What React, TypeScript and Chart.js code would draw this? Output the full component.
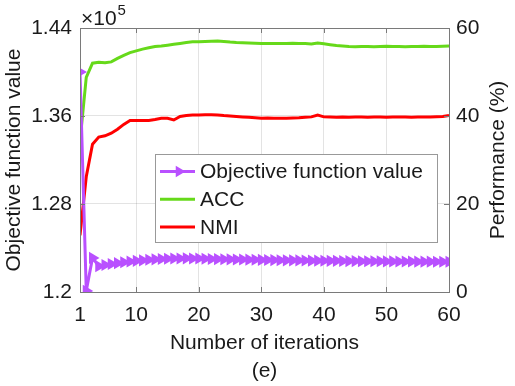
import React, { useEffect, useRef } from "react";
import { Chart, registerables } from "chart.js";

Chart.register(...registerables);

const iterations = [
  1, 2, 3, 4, 5, 6, 7, 8, 9, 10, 11, 12, 13, 14, 15, 16, 17, 18, 19, 20,
  21, 22, 23, 24, 25, 26, 27, 28, 29, 30, 31, 32, 33, 34, 35, 36, 37, 38, 39, 40,
  41, 42, 43, 44, 45, 46, 47, 48, 49, 50, 51, 52, 53, 54, 55, 56, 57, 58, 59, 60,
];

// Objective function value (x 10^5)
const objective = [
  1.4, 1.201, 1.231, 1.2235, 1.2245, 1.2255, 1.2262, 1.227, 1.2277, 1.2283,
  1.2288, 1.2293, 1.2297, 1.23, 1.2302, 1.2305, 1.2305, 1.2306, 1.2305, 1.2304,
  1.2302, 1.23, 1.2299, 1.2298, 1.2297, 1.2296, 1.2295, 1.2294, 1.2293, 1.2292,
  1.2291, 1.229, 1.2289, 1.2288, 1.2288, 1.2287, 1.2286, 1.2285, 1.2285, 1.2284,
  1.2283, 1.2283, 1.2282, 1.2281, 1.2281, 1.228, 1.228, 1.2279, 1.2279, 1.2278,
  1.2278, 1.2277, 1.2277, 1.2277, 1.2276, 1.2276, 1.2276, 1.2275, 1.2275, 1.2275,
];

const acc = [
  34.2, 48.8, 52.0, 52.2, 52.1, 52.3, 53.1, 53.8, 54.4, 54.8,
  55.2, 55.5, 55.8, 55.9, 56.1, 56.3, 56.5, 56.7, 56.85, 56.9,
  56.95, 57.0, 57.05, 56.95, 56.8, 56.7, 56.65, 56.6, 56.55, 56.5,
  56.5, 56.5, 56.5, 56.5, 56.55, 56.5, 56.45, 56.35, 56.6, 56.4,
  56.2, 56.0, 55.9, 55.8, 55.75, 55.8, 55.8, 55.75, 55.8, 55.85,
  55.8, 55.8, 55.75, 55.8, 55.8, 55.85, 55.8, 55.8, 55.85, 55.9,
];

const nmi = [
  12.9, 26.2, 33.6, 35.2, 35.5, 36.1, 37.0, 38.1, 39.0, 39.0,
  39.0, 39.0, 39.2, 39.5, 39.5, 39.1, 39.9, 40.1, 40.2, 40.25,
  40.3, 40.3, 40.25, 40.1, 40.0, 39.9, 39.8, 39.7, 39.6, 39.5,
  39.55, 39.5, 39.5, 39.5, 39.55, 39.6, 39.7, 39.8, 40.2, 39.8,
  39.75, 39.7, 39.8, 39.7, 39.75, 39.8, 39.7, 39.8, 39.75, 39.7,
  39.8, 39.75, 39.8, 39.7, 39.8, 39.75, 39.8, 39.85, 39.9, 40.1,
];

const xTicks = [1, 10, 20, 30, 40, 50, 60];
const yLeftTicks = [1.2, 1.28, 1.36, 1.44];
const yLeftLabels = ["1.2", "1.28", "1.36", "1.44"];
const yRightTicks = [0, 20, 40, 60];
const yRightLabels = ["0", "20", "40", "60"];

const seriesNames = ["Objective function value", "ACC", "NMI"];
const seriesColors = ["rgb(185,80,255)", "rgb(102,217,26)", "rgb(255,0,0)"];
const rightTitle = "Performance (%)";

const FONT = "'Liberation Sans', Arial, Helvetica, sans-serif";
const FS = 21;
const TEXT = "#1a1a1a";
const AXIS = "#7a7a7a";
const GRID = "rgba(0,0,0,0.11)";

function triangleRight(ctx: CanvasRenderingContext2D, x: number, y: number, r: number) {
  ctx.beginPath();
  ctx.moveTo(x + r, y);
  ctx.lineTo(x - r / 2, y - r * 0.866);
  ctx.lineTo(x - r / 2, y + r * 0.866);
  ctx.closePath();
  ctx.fill();
}

const decorPlugin = {
  id: "decor",
  afterDraw(chart: any) {
    const ctx: CanvasRenderingContext2D = chart.ctx;
    const { left, right, top, bottom } = chart.chartArea;
    const xs = chart.scales.x;
    const yl = chart.scales.yL;
    const yr = chart.scales.yR;
    ctx.save();
    // axes box
    ctx.strokeStyle = AXIS;
    ctx.lineWidth = 1;
    ctx.strokeRect(Math.round(left) + 0.5, Math.round(top) + 0.5, Math.round(right - left), Math.round(bottom - top));
    // inward ticks
    ctx.beginPath();
    const tl = 5;
    xTicks.forEach((v) => {
      const px = Math.round(xs.getPixelForValue(v)) + 0.5;
      ctx.moveTo(px, bottom);
      ctx.lineTo(px, bottom - tl);
      ctx.moveTo(px, top);
      ctx.lineTo(px, top + tl);
    });
    yLeftTicks.forEach((v) => {
      const py = Math.round(yl.getPixelForValue(v)) + 0.5;
      ctx.moveTo(left, py);
      ctx.lineTo(left + tl, py);
    });
    yRightTicks.forEach((v) => {
      const py = Math.round(yr.getPixelForValue(v)) + 0.5;
      ctx.moveTo(right, py);
      ctx.lineTo(right - tl, py);
    });
    ctx.stroke();

    // right axis title (reads bottom-to-top)
    ctx.fillStyle = TEXT;
    ctx.font = `${FS}px ${FONT}`;
    ctx.save();
    ctx.translate(498, (top + bottom) / 2);
    ctx.rotate(-Math.PI / 2);
    ctx.textAlign = "center";
    ctx.textBaseline = "middle";
    ctx.fillText(rightTitle, 0, 0);
    ctx.restore();

    // exponent label
    ctx.textBaseline = "alphabetic";
    ctx.textAlign = "left";
    ctx.font = `${FS}px ${FONT}`;
    ctx.fillText("\u00d710", left + 1, top - 3);
    const w = ctx.measureText("\u00d710").width;
    ctx.font = `15px ${FONT}`;
    ctx.fillText("5", left + 1 + w + 1, top - 13);

    // legend
    const lx = 155, ly = 154, lw = 282, lh = 88;
    ctx.fillStyle = "#ffffff";
    ctx.fillRect(lx, ly, lw, lh);
    ctx.strokeStyle = "#999999";
    ctx.strokeRect(lx + 0.5, ly + 0.5, lw, lh);
    ctx.font = `${FS}px ${FONT}`;
    ctx.textBaseline = "middle";
    seriesNames.forEach((name, i) => {
      const cy = ly + 17.5 + i * 27.7;
      ctx.strokeStyle = seriesColors[i];
      ctx.lineWidth = 3;
      ctx.beginPath();
      ctx.moveTo(lx + 5, cy);
      ctx.lineTo(lx + 40, cy);
      ctx.stroke();
      if (i === 0) {
        ctx.fillStyle = seriesColors[i];
        triangleRight(ctx, lx + 24, cy, 6.5);
      }
      ctx.fillStyle = TEXT;
      ctx.fillText(name, lx + 45, cy + 1);
    });
    ctx.restore();
  },
};

export default function App() {
  const ref = useRef<HTMLCanvasElement | null>(null);

  useEffect(() => {
    if (!ref.current) return;
    const tickFont = { family: FONT, size: FS };
    const chart = new Chart(ref.current, {
      type: "line",
      data: {
        datasets: [
          {
            label: seriesNames[0],
            data: objective.map((v, i) => ({ x: iterations[i], y: v })),
            yAxisID: "yL",
            borderColor: seriesColors[0],
            backgroundColor: seriesColors[0],
            borderWidth: 3,
            pointStyle: "triangle",
            rotation: 90,
            pointRadius: 7,
            pointBorderWidth: 0,
            pointBackgroundColor: seriesColors[0],
            tension: 0,
          },
          {
            label: seriesNames[1],
            data: acc.map((v, i) => ({ x: iterations[i], y: v })),
            yAxisID: "yR",
            borderColor: seriesColors[1],
            backgroundColor: seriesColors[1],
            borderWidth: 3,
            pointRadius: 0,
            tension: 0,
          },
          {
            label: seriesNames[2],
            data: nmi.map((v, i) => ({ x: iterations[i], y: v })),
            yAxisID: "yR",
            borderColor: seriesColors[2],
            backgroundColor: seriesColors[2],
            borderWidth: 3,
            pointRadius: 0,
            tension: 0,
          },
        ],
      },
      options: {
        responsive: false,
        animation: false,
        devicePixelRatio: 1,
        layout: { padding: { top: 28, left: 0, right: 0, bottom: 0 } },
        plugins: { legend: { display: false }, tooltip: { enabled: false } },
        scales: {
          x: {
            type: "linear",
            min: 1,
            max: 60,
            afterBuildTicks: (s: any) => {
              s.ticks = xTicks.map((v) => ({ value: v }));
            },
            afterFit: (s: any) => {
              s.height = 94;
            },
            grid: { color: GRID, drawTicks: false },
            border: { display: false },
            ticks: {
              font: tickFont,
              color: TEXT,
              padding: 11,
              maxRotation: 0,
              autoSkip: false,
              callback: (v: any) => String(v),
            },
            title: {
              display: true,
              text: ["Number of iterations", "(e)"],
              color: TEXT,
              font: { family: FONT, size: FS, lineHeight: 1.37 },
              padding: { top: 0, bottom: 0 },
            },
          },
          yL: {
            type: "linear",
            position: "left",
            min: 1.2,
            max: 1.44,
            afterBuildTicks: (s: any) => {
              s.ticks = yLeftTicks.map((v) => ({ value: v }));
            },
            afterFit: (s: any) => {
              s.width = 80;
            },
            grid: { color: GRID, drawTicks: false },
            border: { display: false },
            ticks: {
              font: tickFont,
              color: TEXT,
              padding: 8,
              autoSkip: false,
              callback: (_v: any, i: number) => yLeftLabels[i],
            },
            title: {
              display: true,
              text: "Objective function value",
              color: TEXT,
              font: { family: FONT, size: FS },
              padding: { top: 1.5, bottom: 0 },
            },
          },
          yR: {
            type: "linear",
            position: "right",
            min: 0,
            max: 60,
            afterBuildTicks: (s: any) => {
              s.ticks = yRightTicks.map((v) => ({ value: v }));
            },
            afterFit: (s: any) => {
              s.width = 66;
            },
            grid: { display: false, drawTicks: false },
            border: { display: false },
            ticks: {
              font: tickFont,
              color: TEXT,
              padding: 7,
              autoSkip: false,
              callback: (_v: any, i: number) => yRightLabels[i],
            },
            title: { display: false },
          },
        },
      },
      plugins: [decorPlugin],
    } as any);
    return () => chart.destroy();
  }, []);

  return (
    <div style={{ position: "absolute", left: 0, top: 0, width: 515, height: 386, background: "#fff" }}>
      <canvas ref={ref} width={515} height={386} style={{ display: "block" }} />
    </div>
  );
}
